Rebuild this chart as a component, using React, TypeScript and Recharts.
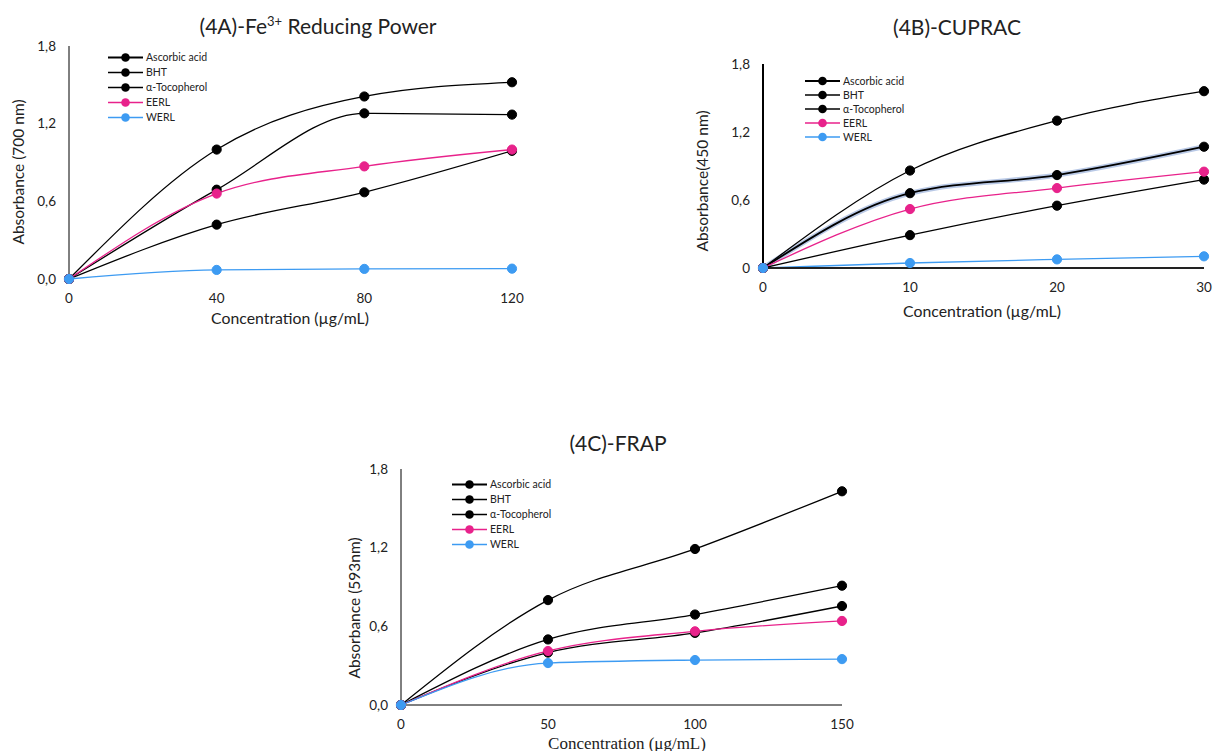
import React from 'react';
import { LineChart, Line, XAxis, YAxis, Legend } from 'recharts';

// ---------- shared series info ----------
const seriesNames = ['Ascorbic acid', 'BHT', 'α-Tocopherol', 'EERL', 'WERL'];
const seriesColors = ['#000000', '#000000', '#000000', '#E8228B', '#3D9BF2'];

// ---------- (4A) Fe3+ reducing power ----------
const concA = [0, 40, 80, 120];
const ascorbicA = [0, 1.0, 1.41, 1.52];
const bhtA = [0, 0.69, 1.28, 1.27];
const tocoA = [0, 0.42, 0.67, 0.99];
const eerlA = [0, 0.66, 0.87, 1.0];
const werlA = [0, 0.07, 0.078, 0.08];
const yTicksA = [0, 0.6, 1.2, 1.8];
const yTickLabelsA = ['0,0', '0,6', '1,2', '1,8'];

// ---------- (4B) CUPRAC ----------
const concB = [0, 10, 20, 30];
const ascorbicB = [0, 0.86, 1.3, 1.56];
const bhtB = [0, 0.66, 0.82, 1.07];
const tocoB = [0, 0.29, 0.55, 0.78];
const eerlB = [0, 0.52, 0.705, 0.85];
const werlB = [0, 0.044, 0.076, 0.103];
const yTicksB = [0, 0.6, 1.2, 1.8];
const yTickLabelsB = ['0', '0,6', '1,2', '1,8'];

// ---------- (4C) FRAP ----------
const concC = [0, 50, 100, 150];
const ascorbicC = [0, 0.8, 1.19, 1.63];
const bhtC = [0, 0.5, 0.69, 0.91];
const tocoC = [0, 0.4, 0.55, 0.755];
const eerlC = [0, 0.412, 0.562, 0.641];
const werlC = [0, 0.32, 0.343, 0.35];
const yTicksC = [0, 0.6, 1.2, 1.8];
const yTickLabelsC = ['0,0', '0,6', '1,2', '1,8'];

const buildRows = (xs: number[], series: number[][]) =>
  xs.map((x, i) => {
    const row: Record<string, number> = { x };
    series.forEach((s, k) => {
      row['s' + k] = s[i];
    });
    return row;
  });

const dataA = buildRows(concA, [ascorbicA, bhtA, tocoA, eerlA, werlA]);
const dataB = buildRows(concB, [ascorbicB, bhtB, tocoB, eerlB, werlB]);
const dataC = buildRows(concC, [ascorbicC, bhtC, tocoC, eerlC, werlC]);

const SANS = 'Lato, "Open Sans", sans-serif';

type PanelProps = {
  left: number;
  top: number;
  width: number;
  height: number;
  margin: { top: number; right: number; bottom: number; left: number };
  data: Record<string, number>[];
  xTicks: number[];
  yTicks: number[];
  yTickLabels: string[];
  xAxisLine: boolean;
  xAxisColor?: string;
  axisWidth?: number;
  glowIndex?: number;
  legendLeft: number;
  legendTop: number;
  legendRow: number;
};

const LegendContent = ({ row }: { row: number }) => (
  <div style={{ fontFamily: SANS, fontSize: 10.5, color: '#222' }}>
    {seriesNames.map((n, i) => (
      <div key={n} style={{ display: 'flex', alignItems: 'center', height: row }}>
        <svg width={35} height={row} style={{ display: 'block' }}>
          <line x1={0} x2={35} y1={row / 2} y2={row / 2} stroke={seriesColors[i]} strokeWidth={i === 0 ? 1.8 : 1.3} />
          <circle cx={17.5} cy={row / 2} r={4.3} fill={seriesColors[i]} />
        </svg>
        <span style={{ marginLeft: 3, whiteSpace: 'nowrap' }}>{n}</span>
      </div>
    ))}
  </div>
);

const Panel = (p: PanelProps) => {
  const xmax = p.xTicks[p.xTicks.length - 1];
  const aw = p.axisWidth ?? 1;
  return (
    <div style={{ position: 'absolute', left: p.left, top: p.top }}>
      <LineChart width={p.width} height={p.height} data={p.data} margin={p.margin}>
        <XAxis
          dataKey="x"
          type="number"
          domain={[0, xmax]}
          ticks={p.xTicks}
          axisLine={p.xAxisLine ? { stroke: p.xAxisColor || '#000', strokeWidth: aw } : false}
          tickLine={false}
          tickSize={6}
          tickMargin={8}
          height={30}
          tick={{ fill: '#222', fontSize: 13.5, fontFamily: SANS }}
          interval={0}
        />
        <YAxis
          type="number"
          domain={[0, 1.8]}
          ticks={p.yTicks}
          tickFormatter={(v: number) => p.yTickLabels[p.yTicks.indexOf(v)] ?? String(v)}
          axisLine={{ stroke: '#000', strokeWidth: aw }}
          tickLine={false}
          tickSize={6}
          tickMargin={7}
          width={50}
          tick={{ fill: '#222', fontSize: 13.5, fontFamily: SANS }}
          interval={0}
        />
        <Legend
          layout="vertical"
          align="center"
          verticalAlign="middle"
          wrapperStyle={{ left: p.legendLeft, top: p.legendTop, width: 'auto' }}
          content={() => <LegendContent row={p.legendRow} />}
        />
        {p.glowIndex !== undefined && (
          <Line
            key="glow"
            dataKey={'s' + p.glowIndex}
            type="monotone"
            stroke="#b9c9e6"
            strokeWidth={5}
            dot={false}
            activeDot={false}
            legendType="none"
            isAnimationActive={false}
          />
        )}
        {seriesNames.map((n, i) => (
          <Line
            key={n}
            name={n}
            dataKey={'s' + i}
            type="monotone"
            stroke={seriesColors[i]}
            strokeWidth={p.glowIndex === i ? 1.8 : 1.3}
            dot={{ r: 4.6, fill: seriesColors[i], stroke: seriesColors[i], strokeWidth: 1 }}
            activeDot={false}
            isAnimationActive={false}
          />
        ))}
      </LineChart>
    </div>
  );
};

const Txt = ({
  x, y, children, size = 15.5, rotate = false, family = SANS,
}: { x: number; y: number; children: React.ReactNode; size?: number; rotate?: boolean; family?: string }) => (
  <div
    style={{
      position: 'absolute',
      left: x,
      top: y,
      transform: `translate(-50%, -50%)${rotate ? ' rotate(-90deg)' : ''}`,
      fontFamily: family,
      fontSize: size,
      color: '#222',
      whiteSpace: 'nowrap',
      lineHeight: 1,
    }}
  >
    {children}
  </div>
);

export default function App() {
  return (
    <div style={{ position: 'absolute', left: 0, top: 0, width: 1226, height: 751, background: '#fff', overflow: 'hidden' }}>
      {/* 4A */}
      <Panel
        left={0}
        top={0}
        width={540}
        height={330}
        margin={{ top: 46, right: 28, bottom: 21, left: 19 }}
        data={dataA}
        xTicks={concA}
        yTicks={yTicksA}
        yTickLabels={yTickLabelsA}
        xAxisLine={false}
        legendLeft={108}
        legendTop={49.5}
        legendRow={15}
      />
      <Txt x={318} y={25} size={21}>
        (4A)-Fe<sup style={{ fontSize: 13 }}>3+</sup> Reducing Power
      </Txt>
      <Txt x={19} y={172} rotate>Absorbance (700 nm)</Txt>
      <Txt x={290} y={318} size={15.8}>Concentration (µg/mL)</Txt>

      {/* 4B */}
      <Panel
        left={690}
        top={0}
        width={536}
        height={330}
        margin={{ top: 64, right: 22, bottom: 32, left: 23 }}
        data={dataB}
        xTicks={concB}
        yTicks={yTicksB}
        yTickLabels={yTickLabelsB}
        xAxisLine={true}
        xAxisColor="#222"
        axisWidth={2}
        glowIndex={1}
        legendLeft={115}
        legendTop={74}
        legendRow={14}
      />
      <Txt x={957} y={26} size={21}>(4B)-CUPRAC</Txt>
      <Txt x={703} y={181} rotate>Absorbance(450 nm)</Txt>
      <Txt x={982} y={311} size={15.8}>Concentration (µg/mL)</Txt>

      {/* 4C */}
      <Panel
        left={340}
        top={420}
        width={540}
        height={331}
        margin={{ top: 49, right: 38, bottom: 16, left: 11 }}
        data={dataC}
        xTicks={concC}
        yTicks={yTicksC}
        yTickLabels={yTickLabelsC}
        xAxisLine={true}
        legendLeft={112}
        legendTop={56.5}
        legendRow={15}
      />
      <Txt x={618} y={442} size={21}>(4C)-FRAP</Txt>
      <Txt x={355} y={608} rotate>Absorbance (593nm)</Txt>
      <Txt x={627} y={743} size={17} family='"Liberation Serif", "Times New Roman", serif'>Concentration (μg/mL)</Txt>
    </div>
  );
}
